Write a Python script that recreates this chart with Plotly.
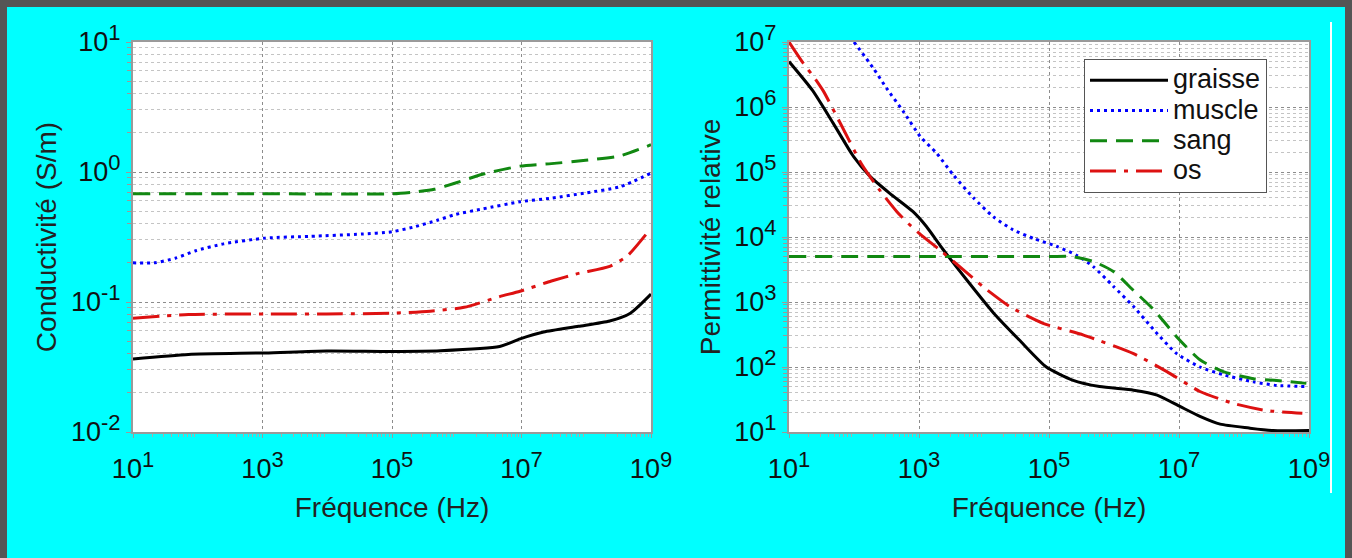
import plotly.graph_objects as go

# ---------------- data ----------------
# Left panel : conductivity (S/m) versus frequency (Hz)
f_sig_graisse = [1e1, 7.2e1, 1.1e3, 9.8e3, 1e5, 5.6e5, 4.6e6, 9.5e6, 2.2e7, 7.6e7, 2.3e8, 4.8e8, 1e9]
sig_graisse = [0.0365, 0.0395, 0.0406, 0.042, 0.0417, 0.0422, 0.0454, 0.052, 0.0587, 0.065, 0.0714, 0.082, 0.115]

f_sig_muscle = [1e1, 2.1e1, 4.5e1, 9.3e1, 2.5e2, 1.1e3, 5.4e3, 3.4e4, 1e5, 2.1e5, 5e5, 9.3e5,
                2.5e6, 9.5e6, 2.9e7, 9.8e7, 3.3e8, 1e9]
sig_muscle = [0.2, 0.2, 0.217, 0.248, 0.28, 0.31, 0.32, 0.333, 0.347, 0.376, 0.425, 0.47,
              0.52, 0.59, 0.63, 0.69, 0.77, 0.98]

f_sig_sang = [1e1, 1e3, 1e5, 2.1e5, 4.5e5, 9.3e5, 2.5e6, 9.5e6, 2.9e7, 9.8e7, 3.3e8, 1e9]
sig_sang = [0.68, 0.68, 0.68, 0.70, 0.736, 0.82, 0.96, 1.11, 1.16, 1.23, 1.33, 1.62]

f_sig_os = [1e1, 7.2e1, 1.1e3, 9.8e3, 1e5, 3.9e5, 1.3e6, 4.6e6, 9.5e6, 2.9e7, 7.6e7, 2.3e8, 4.3e8, 1e9]
sig_os = [0.075, 0.08, 0.081, 0.081, 0.082, 0.085, 0.091, 0.11, 0.121, 0.145, 0.166, 0.188, 0.226, 0.37]

# Right panel : relative permittivity versus frequency (Hz)
f_eps_graisse = [1e1, 2.3e1, 4.8e1, 9.8e1, 1.78e2, 3.55e2, 8.1e2, 1.3e3, 2.3e3, 5.4e3, 1.4e4, 3.5e4,
                 9.1e4, 2.3e5, 6e5, 2e6, 4.6e6, 1.05e7, 2.1e7, 4.3e7, 1.2e8, 2.8e8, 1e9]
eps_graisse = [5.0e6, 1.8e6, 5.6e5, 1.74e5, 8.5e4, 4.7e4, 2.45e4, 1.45e4, 6.6e3, 2.2e3, 6.8e2, 2.6e2,
               100, 63, 50, 44, 37, 24.5, 17.4, 13.2, 11.5, 10.5, 10.5]

f_eps_muscle = [1e2, 2e2, 3.16e2, 5.75e2, 1.05e3, 1.86e3, 3.4e3, 6.9e3, 1.4e4, 2.8e4, 5.8e4, 1.3e5,
                2.7e5, 4.8e5, 9.8e5, 2e6, 4.1e6, 9.1e6, 2.1e7, 4.8e7, 1.4e8, 3.2e8, 9.1e8]
eps_muscle = [1e7, 3.9e6, 1.95e6, 8.5e5, 3.5e5, 1.95e5, 8.9e4, 4e4, 2.04e4, 1.29e4, 9.5e3, 7.2e3,
              5.2e3, 3.5e3, 1.74e3, 850, 372, 162, 100, 76, 59, 52, 50]

f_eps_sang = [1e1, 1e3, 1e5, 2.3e5, 4.8e5, 9.8e5, 2e6, 4.1e6, 9.1e6, 2.1e7, 4.8e7, 1.4e8, 3.2e8, 9.1e8]
eps_sang = [5000, 5000, 5000, 5000, 4.2e3, 2.95e3, 1.5e3, 760, 295, 129, 85, 66, 62, 56]

f_eps_os = [1e1, 1.66e1, 2.5e1, 3.4e1, 6.9e1, 1.32e2, 2.5e2, 4.57e2, 6.92e2, 1.05e3, 2.1e3, 3.4e3,
            6.9e3, 9.8e3, 2.5e4, 8.1e4, 3.4e5, 2e6, 6.5e6, 2.1e7, 6.9e7, 2.2e8, 7.9e8]
eps_os = [1e7, 4.7e6, 2.75e6, 1.74e6, 4.5e5, 1.3e5, 5.2e4, 2.45e4, 1.6e4, 1.1e4, 6.3e3, 4.2e3,
          2.3e3, 1.7e3, 850, 470, 310, 160, 85, 42, 27.5, 21.4, 19.5]

# tick labels
SUP = "<sup><span style='font-size:22px'>%s</span></sup>"
x_tickvals = [1e1, 1e3, 1e5, 1e7, 1e9]
x_exps = ["1", "3", "5", "7", "9"]
sig_tickvals = [1e-2, 1e-1, 1e0, 1e1]
sig_exps = ["-2", "-1", "0", "1"]
eps_tickvals = [1e1, 1e2, 1e3, 1e4, 1e5, 1e6, 1e7]
eps_exps = ["1", "2", "3", "4", "5", "6", "7"]
x_ticktext = ["10" + SUP % e for e in x_exps]
sig_ticktext = ["10" + SUP % e for e in sig_exps]
eps_ticktext = ["10" + SUP % e for e in eps_exps]

names = ["graisse", "muscle", "sang", "os"]
colors = ["#000000", "#0000FF", "#118811", "#DD1111"]
dashes = ["solid", "3px,4px", "17px,9px", "26px,8px,4px,8px"]

# ---------------- figure ----------------
W, H = 1352, 558
ML, MR, MT, MB = 133, 43, 42, 126
PW, PH = W - ML - MR, H - MT - MB

def px(x):
    return (x - ML) / PW

def py(y):
    return (H - MB - y) / PH

fig = go.Figure()
sig_series = [(f_sig_graisse, sig_graisse), (f_sig_muscle, sig_muscle),
              (f_sig_sang, sig_sang), (f_sig_os, sig_os)]
eps_series = [(f_eps_graisse, eps_graisse), (f_eps_muscle, eps_muscle),
              (f_eps_sang, eps_sang), (f_eps_os, eps_os)]

for (fx, fy), n, c, d in zip(sig_series, names, colors, dashes):
    fig.add_trace(go.Scatter(x=fx, y=fy, mode="lines", name=n, showlegend=False,
                             line=dict(color=c, width=3, dash=d, shape="spline", smoothing=0.6),
                             xaxis="x", yaxis="y"))
for (fx, fy), n, c, d in zip(eps_series, names, colors, dashes):
    fig.add_trace(go.Scatter(x=fx, y=fy, mode="lines",
                             name="<span style='font-size:27px'>%s</span>" % n, showlegend=True,
                             line=dict(color=c, width=3, dash=d, shape="spline", smoothing=0.6),
                             xaxis="x2", yaxis="y2"))

FONT = "Liberation Sans, Arial, sans-serif"
TICKFONT = dict(family=FONT, size=27, color="#111")
TITLEFONT = dict(family=FONT, size=28, color="#222")

def minor_vals(lo, hi):
    vals = []
    for k in range(lo, hi):
        for m in range(2, 10):
            vals.append(m * 10.0 ** k)
    return vals

common_x = dict(
    type="log", tickmode="array", tickvals=x_tickvals, ticktext=x_ticktext,
    range=[1, 9], showline=True, linecolor="#9a9a9a", linewidth=2, mirror=True,
    showgrid=True, gridcolor="#8c8c8c", griddash="dot", gridwidth=1,
    ticks="outside", ticklen=4, tickcolor="#9a9a9a", ticklabelstandoff=8,
    tickfont=TICKFONT,
    minor=dict(tickvals=minor_vals(1, 9), ticks="outside", ticklen=3, tickcolor="#aaaaaa", showgrid=False),
    zeroline=False,
    title=dict(text="Fréquence (Hz)", font=TITLEFONT, standoff=14),
)

common_y = dict(
    type="log", domain=[0, 1],
    showline=True, linecolor="#9a9a9a", linewidth=2, mirror=True,
    showgrid=True, gridcolor="#8c8c8c", griddash="dot", gridwidth=1,
    ticks="outside", ticklen=5, tickcolor="#9a9a9a",
    tickfont=TICKFONT, zeroline=False,
)

fig.update_layout(
    width=W, height=H,
    margin=dict(l=ML, r=MR, t=MT, b=MB),
    paper_bgcolor="#00FFFF", plot_bgcolor="#FFFFFF",
    font=dict(family=FONT, color="#111"),
    xaxis=dict(domain=[0, px(651)], anchor="y", **common_x),
    xaxis2=dict(domain=[px(789), 1], anchor="y2", **common_x),
    yaxis=dict(
        anchor="x", range=[-2, 1],
        tickmode="array", tickvals=sig_tickvals, ticktext=sig_ticktext,
        minor=dict(tickvals=minor_vals(-2, 1), ticks="outside", ticklen=4, tickcolor="#9a9a9a",
                   showgrid=True, gridcolor="#c4c4c4", griddash="dot", gridwidth=1),
        title=dict(text="Conductivité (S/m)", font=TITLEFONT, standoff=6),
        **common_y,
    ),
    yaxis2=dict(
        anchor="x2", range=[1, 7],
        tickmode="array", tickvals=eps_tickvals, ticktext=eps_ticktext,
        minor=dict(tickvals=minor_vals(1, 7), ticks="outside", ticklen=4, tickcolor="#9a9a9a",
                   showgrid=True, gridcolor="#c4c4c4", griddash="dot", gridwidth=1),
        title=dict(text="Permittivité relative", font=TITLEFONT, standoff=6),
        **common_y,
    ),
    legend=dict(
        x=px(1084), y=py(59), xanchor="left", yanchor="top",
        bgcolor="#FFFFFF", bordercolor="#555555", borderwidth=1,
        font=dict(family=FONT, size=21, color="#111"),
        itemwidth=78, tracegroupgap=0,
    ),
    shapes=[
        # dark outer frame of the picture
        dict(type="rect", xref="paper", yref="paper",
             x0=px(3.5), x1=px(1348.5), y0=py(575), y1=py(3.5),
             line=dict(color="#555555", width=7), fillcolor="rgba(0,0,0,0)", layer="above"),
        # thin white vertical line at the right
        dict(type="line", xref="paper", yref="paper",
             x0=px(1331), x1=px(1331), y0=py(493), y1=py(22),
             line=dict(color="#FFFFFF", width=2)),
    ],
)

fig.write_html("out.html", config={"displayModeBar": False},
               post_script="document.body.style.margin='0';")
